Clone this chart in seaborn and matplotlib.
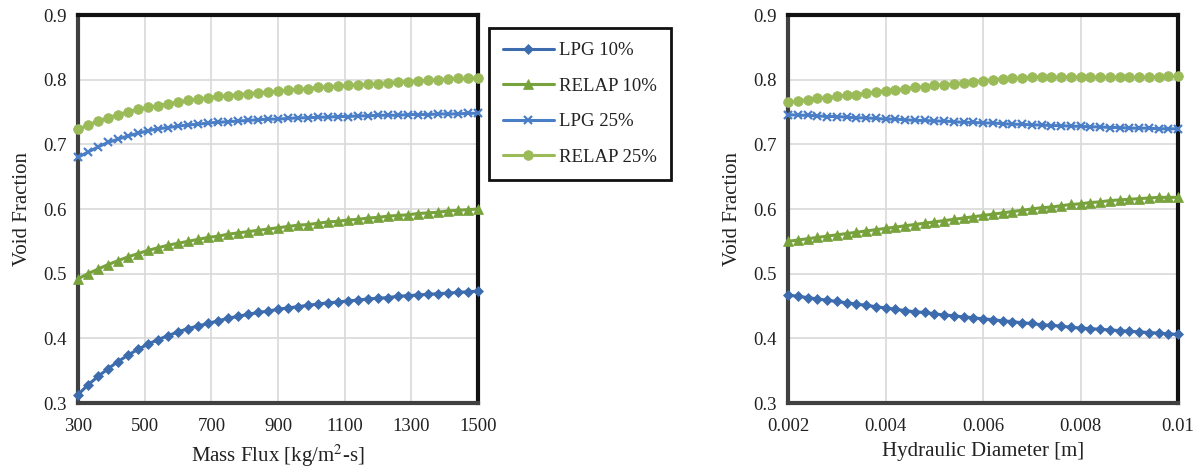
import numpy as np
import pandas as pd
import seaborn as sns
import matplotlib
matplotlib.use("Agg")
import matplotlib.pyplot as plt

# ---------------- data ----------------
mass_flux = np.linspace(300, 1500, 41)
hyd_diam = np.linspace(0.002, 0.01, 41)

lpg10_left = [0.313, 0.328, 0.341, 0.353, 0.364, 0.374, 0.383, 0.391, 0.398, 0.404,
              0.410, 0.415, 0.419, 0.423, 0.427, 0.431, 0.434, 0.437, 0.440, 0.442,
              0.445, 0.447, 0.449, 0.451, 0.453, 0.455, 0.456, 0.458, 0.459, 0.461,
              0.462, 0.463, 0.465, 0.466, 0.467, 0.468, 0.469, 0.470, 0.471, 0.472,
              0.473]
relap10_left = [0.492, 0.500, 0.507, 0.514, 0.520, 0.526, 0.531, 0.536, 0.540, 0.544,
                0.547, 0.550, 0.553, 0.556, 0.558, 0.561, 0.563, 0.565, 0.567, 0.569,
                0.571, 0.573, 0.575, 0.576, 0.578, 0.580, 0.581, 0.583, 0.584, 0.586,
                0.587, 0.589, 0.590, 0.591, 0.593, 0.594, 0.595, 0.597, 0.598, 0.599,
                0.600]
lpg25_left = [0.680, 0.688, 0.696, 0.703, 0.708, 0.713, 0.717, 0.721, 0.724, 0.726,
              0.728, 0.730, 0.731, 0.733, 0.734, 0.735, 0.736, 0.737, 0.738, 0.739,
              0.739, 0.740, 0.741, 0.741, 0.742, 0.742, 0.743, 0.743, 0.744, 0.744,
              0.745, 0.745, 0.745, 0.746, 0.746, 0.746, 0.747, 0.747, 0.747, 0.748,
              0.748]
relap25_left = [0.723, 0.730, 0.736, 0.741, 0.746, 0.750, 0.754, 0.757, 0.760, 0.763,
                0.765, 0.768, 0.770, 0.772, 0.774, 0.775, 0.777, 0.778, 0.780, 0.781,
                0.782, 0.784, 0.785, 0.786, 0.788, 0.789, 0.790, 0.791, 0.792, 0.793,
                0.794, 0.795, 0.796, 0.797, 0.798, 0.799, 0.800, 0.801, 0.802, 0.802,
                0.803]

lpg10_right = [0.467, 0.465, 0.463, 0.461, 0.459, 0.457, 0.455, 0.453, 0.451, 0.449,
               0.447, 0.445, 0.443, 0.441, 0.440, 0.438, 0.436, 0.435, 0.433, 0.432,
               0.430, 0.429, 0.427, 0.426, 0.424, 0.423, 0.421, 0.420, 0.419, 0.417,
               0.416, 0.415, 0.414, 0.413, 0.412, 0.411, 0.410, 0.409, 0.408, 0.407,
               0.406]
relap10_right = [0.550, 0.552, 0.554, 0.556, 0.558, 0.560, 0.562, 0.564, 0.566, 0.568,
                 0.570, 0.572, 0.574, 0.576, 0.578, 0.580, 0.582, 0.584, 0.586, 0.588,
                 0.590, 0.592, 0.594, 0.596, 0.598, 0.600, 0.602, 0.603, 0.605, 0.607,
                 0.608, 0.610, 0.611, 0.613, 0.614, 0.615, 0.616, 0.617, 0.618, 0.618,
                 0.618]
lpg25_right = [0.746, 0.745, 0.745, 0.744, 0.743, 0.743, 0.742, 0.741, 0.741, 0.740,
               0.739, 0.739, 0.738, 0.737, 0.737, 0.736, 0.736, 0.735, 0.734, 0.734,
               0.733, 0.733, 0.732, 0.731, 0.731, 0.730, 0.730, 0.729, 0.729, 0.728,
               0.728, 0.727, 0.727, 0.726, 0.726, 0.725, 0.725, 0.725, 0.724, 0.724,
               0.724]
relap25_right = [0.765, 0.767, 0.769, 0.771, 0.772, 0.774, 0.776, 0.777, 0.779, 0.781,
                 0.783, 0.784, 0.786, 0.788, 0.789, 0.791, 0.792, 0.794, 0.795, 0.797,
                 0.798, 0.800, 0.801, 0.802, 0.803, 0.804, 0.804, 0.804, 0.804, 0.804,
                 0.804, 0.804, 0.804, 0.804, 0.804, 0.804, 0.804, 0.804, 0.804, 0.805,
                 0.805]

series_names = ["LPG 10%", "RELAP 10%", "LPG 25%", "RELAP 25%"]
left_ticks = [300, 500, 700, 900, 1100, 1300, 1500]
right_ticks = [0.002, 0.004, 0.006, 0.008, 0.01]
right_tick_labels = ["0.002", "0.004", "0.006", "0.008", "0.01"]
y_ticks = [0.3, 0.4, 0.5, 0.6, 0.7, 0.8, 0.9]

# ---------------- style ----------------
sns.set_theme(style="white")
plt.rcParams["font.family"] = ["Liberation Serif", "DejaVu Serif"]
plt.rcParams["mathtext.fontset"] = "stix"

styles = {
    "LPG 10%": dict(color="#3D6CAE", marker="D", markersize=5.5, markeredgewidth=0.5),
    "RELAP 10%": dict(color="#77A23C", marker="^", markersize=7, markeredgewidth=0.5),
    "LPG 25%": dict(color="#4A7EC6", marker="x", markersize=6, markeredgewidth=1.6),
    "RELAP 25%": dict(color="#9BBB59", marker="o", markersize=7, markeredgewidth=0.5),
}

fig = plt.figure(figsize=(12.03, 4.68), dpi=100)
W, H = 1203, 468
ax1 = fig.add_axes([78 / W, 1 - 403 / H, 400 / W, 388 / H])
ax2 = fig.add_axes([788 / W, 1 - 403 / H, 390 / W, 388 / H])


def draw(ax, x, ys, xlabel, xticks, xticklabels, xlim):
    for name, y in zip(series_names, ys):
        df = pd.DataFrame({"x": x, "y": y})
        st = styles[name]
        sns.lineplot(data=df, x="x", y="y", ax=ax, color=st["color"],
                     marker=st["marker"], markersize=st["markersize"],
                     markeredgewidth=st["markeredgewidth"],
                     markeredgecolor=st["color"], linewidth=2.2,
                     label=name, legend=False, clip_on=False, zorder=3)
    ax.set_xlim(*xlim)
    ax.set_ylim(0.3, 0.9)
    ax.set_xticks(xticks)
    ax.set_xticklabels(xticklabels)
    ax.set_yticks(y_ticks)
    ax.set_yticklabels([f"{v:.1f}" for v in y_ticks])
    ax.grid(True, color="#D9D9D9", linewidth=1.2)
    ax.set_axisbelow(True)
    for s in ax.spines.values():
        s.set_visible(True)
        s.set_color("#111111")
        s.set_linewidth(3)
    ax.spines["left"].set_color("#404040")
    ax.spines["bottom"].set_color("#404040")
    ax.tick_params(axis="y", labelsize=13.5, colors="#222222", length=0, pad=8)
    ax.tick_params(axis="x", labelsize=13.5, colors="#222222", length=0, pad=11)
    ax.set_xlabel(xlabel, fontsize=15, color="#222222", labelpad=5)
    ax.set_ylabel("Void Fraction", fontsize=15, color="#222222", labelpad=8)


draw(ax1, mass_flux, [lpg10_left, relap10_left, lpg25_left, relap25_left],
     r"Mass Flux [kg/m$^2$-s]", left_ticks, [str(t) for t in left_ticks], (300, 1500))
draw(ax2, hyd_diam, [lpg10_right, relap10_right, lpg25_right, relap25_right],
     "Hydraulic Diameter [m]", right_ticks, right_tick_labels, (0.002, 0.01))

handles, labels = ax1.get_legend_handles_labels()
leg = fig.legend(handles, labels, loc="upper left",
                 bbox_to_anchor=(489 / W, 1 - 28 / H), frameon=True,
                 fontsize=13.5, labelspacing=0.98, handlelength=2.7,
                 handletextpad=0.3, borderpad=0.75, borderaxespad=0,
                 fancybox=False, framealpha=1)
leg.get_frame().set_edgecolor("#111111")
leg.get_frame().set_linewidth(2)
for t in leg.get_texts():
    t.set_color("#222222")

fig.savefig("out.png", dpi=100)
